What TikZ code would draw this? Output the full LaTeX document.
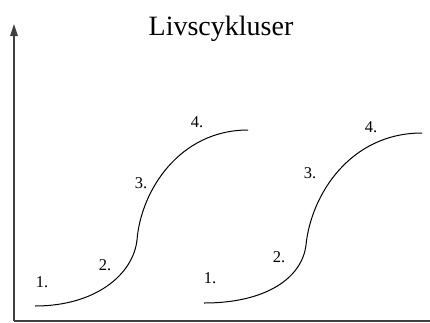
\documentclass[tikz,border=0pt]{standalone}
\usepackage{fontspec}
\setmainfont{Liberation Serif}
\usepackage{xcolor}
\usepackage{tikz}
\usetikzlibrary{arrows.meta}
\definecolor{axisColor}{HTML}{404040}
\definecolor{curveColor}{HTML}{000000}

\begin{document}
\begin{tikzpicture}[
        x=1pt, y=-1pt,
        axisLine/.style={draw=axisColor, line width=1.4pt},
        curveLine/.style={draw=curveColor, line width=1pt},
        phaseLabel/.style={font=\fontsize{16.5}{18}\selectfont, inner sep=0pt},
        titleText/.style={font=\fontsize{28}{32}\selectfont, inner sep=0pt, anchor=base}
    ]
        \useasboundingbox (0,0) rectangle (430,322);

        % Axes
        \draw[axisLine, -{Triangle[width=7.5pt, length=12pt]}] (14,321) -- (14,24);
        \draw[axisLine] (14,321) -- (430,321);

        % Title
        \node[titleText] (title) at (221,35) {Livscykluser};

        % First life cycle
        \draw[curveLine] (35,306) .. controls (95,306) and (133,275) .. (137,240)
            .. controls (141,190) and (180,130) .. (248,130);

        % Second life cycle
        \draw[curveLine] (204,303) .. controls (266,303) and (302,278) .. (306,245)
            .. controls (311,195) and (350,133) .. (422,133);

        % Phase labels
        \node[phaseLabel] (a1) at (42,282) {1.};
        \node[phaseLabel] (a2) at (105,265) {2.};
        \node[phaseLabel] (a3) at (141,183) {3.};
        \node[phaseLabel] (a4) at (197,122) {4.};

        \node[phaseLabel] (b1) at (210,278) {1.};
        \node[phaseLabel] (b2) at (279,257) {2.};
        \node[phaseLabel] (b3) at (310,173) {3.};
        \node[phaseLabel] (b4) at (371,127) {4.};
    \end{tikzpicture}
\end{document}
